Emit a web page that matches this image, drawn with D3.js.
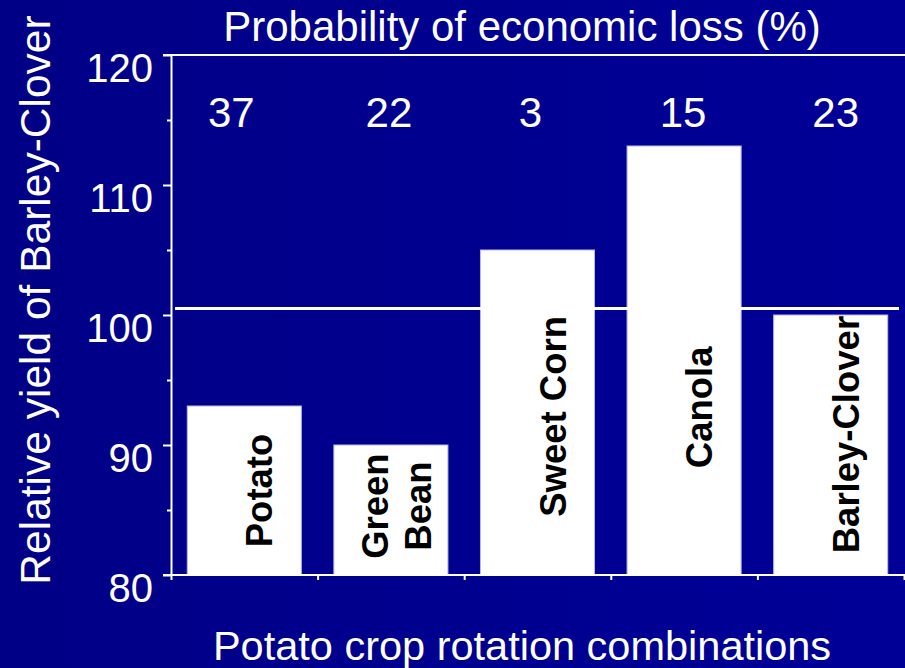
<!DOCTYPE html>
<html>
<head>
<meta charset="utf-8">
<script src="https://cdn.jsdelivr.net/npm/d3@7/dist/d3.min.js"></script>
<style>
  html, body { margin: 0; padding: 0; background: #000090; }
  svg { display: block; }
  text { font-family: "Liberation Sans", Arial, Helvetica, sans-serif; }
</style>
</head>
<body>
<svg id="chart" width="905" height="668"></svg>
<script>
// ---- data ----
const categories = ["Potato", "Green Bean", "Sweet Corn", "Canola", "Barley-Clover"];
const categoryLabelLines = [["Potato"], ["Green", "Bean"], ["Sweet Corn"], ["Canola"], ["Barley-Clover"]];
const relativeYield = [93, 90, 105, 113, 100];
const lossProbability = [37, 22, 3, 15, 23];
const yTickLabels = [80, 90, 100, 110, 120];
const yMinorTicks = [85, 95, 105, 115];
const referenceYield = 100.5;
const titleText = "Probability of economic loss (%)";
const yAxisTitle = "Relative yield of Barley-Clover";
const xAxisTitle = "Potato crop rotation combinations";

// ---- layout (not data) ----
const W = 905, H = 668;
const plot = { left: 171, right: 904, top: 55, bottom: 575 };
// vertical centre of each rotated bar label, in yield units
const labelCentreYield = [86.5, 85.3, 92.2, 92.9, 90.8];
// horizontal nudge of the probability numbers (px), as placed in the original slide
const numberNudge = [-13, -2, -7, -1, 5];

const svg = d3.select("#chart");

const defs = svg.append("defs");
const grad = defs.append("linearGradient").attr("id", "bg")
  .attr("x1", "0").attr("y1", "0").attr("x2", "1").attr("y2", "0");
grad.append("stop").attr("offset", "0").attr("stop-color", "#000086");
grad.append("stop").attr("offset", "1").attr("stop-color", "#000097");
svg.append("rect").attr("width", W).attr("height", H).attr("fill", "url(#bg)");

const y = d3.scaleLinear().domain([80, 120]).range([plot.bottom, plot.top]);
const x = d3.scaleBand().domain(categories).range([plot.left, plot.right])
  .paddingInner(0.222).paddingOuter(0.111);
const xEdge = d3.scaleLinear().domain([0, categories.length]).range([plot.left, plot.right]);

// bars
svg.append("g").selectAll("rect").data(categories).join("rect")
  .attr("x", d => x(d))
  .attr("width", x.bandwidth())
  .attr("y", (d, i) => y(relativeYield[i]))
  .attr("height", (d, i) => y(80) - y(relativeYield[i]))
  .attr("fill", "#ffffff")
  .attr("stroke", "#b8b8f0")
  .attr("stroke-width", 1);

// reference line
svg.append("line")
  .attr("x1", plot.left + 4).attr("x2", plot.right - 5)
  .attr("y1", y(referenceYield)).attr("y2", y(referenceYield))
  .attr("stroke", "#ffffff").attr("stroke-width", 3);

// y axis
const yAxisG = svg.append("g").attr("transform", `translate(${plot.left},0)`)
  .call(d3.axisLeft(y).tickValues(yTickLabels.concat(yMinorTicks)).tickSize(8).tickSizeOuter(0).tickFormat(""));
yAxisG.selectAll(".tick line")
  .attr("x2", d => yMinorTicks.includes(d) ? -4 : -8);
yAxisG.selectAll("line, path").attr("stroke", "#ffffff").attr("stroke-width", 2);

svg.append("g").selectAll("text").data(yTickLabels).join("text")
  .attr("x", 153)
  .attr("y", d => y(d) + 27)
  .attr("text-anchor", "end")
  .attr("fill", "#ffffff")
  .attr("font-size", 40)
  .text(d => d);

// top border line
svg.append("line")
  .attr("x1", plot.left - 8).attr("x2", W)
  .attr("y1", plot.top).attr("y2", plot.top)
  .attr("stroke", "#ffffff").attr("stroke-width", 2);

// x axis
const xAxisG = svg.append("g").attr("transform", `translate(0,${plot.bottom})`)
  .call(d3.axisBottom(xEdge).ticks(categories.length).tickSize(5).tickSizeOuter(0).tickFormat(""));
xAxisG.select(".domain").attr("d", `M${plot.left - 8},0H${W}`);
xAxisG.selectAll("line, path").attr("stroke", "#ffffff").attr("stroke-width", 2);

// loss probability numbers
svg.append("g").selectAll("text").data(categories).join("text")
  .attr("x", (d, i) => x(d) + x.bandwidth() / 2 + numberNudge[i])
  .attr("y", 127)
  .attr("text-anchor", "middle")
  .attr("fill", "#ffffff")
  .attr("font-size", 42)
  .text((d, i) => lossProbability[i]);

// rotated bar labels
const labelG = svg.append("g").selectAll("g").data(categories).join("g")
  .attr("transform", (d, i) => {
    const lines = categoryLabelLines[i].length;
    const cx = x(d) + x.bandwidth() / 2 + 28 - (lines - 1) * 31;
    return `translate(${cx},${y(labelCentreYield[i])}) rotate(-90)`;
  });
labelG.each(function (d, i) {
  const g = d3.select(this);
  const lines = categoryLabelLines[i];
  lines.forEach((t, k) => {
    g.append("text")
      .attr("x", 0)
      .attr("y", k * 43)
      .attr("text-anchor", "middle")
      .attr("fill", "#000000")
      .attr("font-weight", "bold")
      .attr("font-size", 36.5)
      .text(t);
  });
});

// titles
svg.append("text")
  .attr("x", 522).attr("y", 41)
  .attr("text-anchor", "middle").attr("fill", "#ffffff")
  .attr("font-size", 42)
  .text(titleText);

svg.append("text")
  .attr("transform", "translate(50,300) rotate(-90)")
  .attr("text-anchor", "middle").attr("fill", "#ffffff")
  .attr("font-size", 42.5)
  .text(yAxisTitle);

svg.append("text")
  .attr("x", 522).attr("y", 660)
  .attr("text-anchor", "middle").attr("fill", "#ffffff")
  .attr("font-size", 41.5)
  .text(xAxisTitle);
</script>
</body>
</html>
